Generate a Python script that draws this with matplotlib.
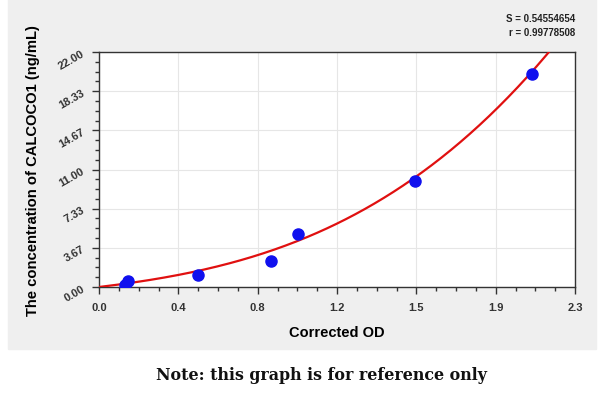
import numpy as np
import matplotlib.pyplot as plt
from matplotlib.patches import Rectangle
from matplotlib.ticker import AutoMinorLocator

# standard points (corrected OD, concentration ng/mL)
od = [0.126, 0.14, 0.478, 0.831, 0.961, 1.527, 2.092]
conc = [0.19, 0.56, 1.12, 2.43, 4.96, 9.92, 19.94]

# fitted curve coefficients: y = a*x + b*x^2 + c*x^3
fit_a, fit_b, fit_c = 2.316, 1.224, 1.088

x_ticks = np.linspace(0, 2.3, 7)
x_tick_labels = ["0.0", "0.4", "0.8", "1.2", "1.5", "1.9", "2.3"]
y_ticks = np.linspace(0, 22, 7)
y_tick_labels = ["0.00", "3.67", "7.33", "11.00", "14.67", "18.33", "22.00"]

plt.rcParams['font.family'] = ['Liberation Sans', 'DejaVu Sans']

fig = plt.figure(figsize=(6, 4.02), dpi=100)
fig.patches.append(Rectangle((8 / 600, 1 - 350 / 402), 588 / 600, 350 / 402,
                             transform=fig.transFigure, color='#efefef', zorder=-5))

ax = fig.add_axes([99 / 600, 1 - 288 / 402, 476 / 600, 235 / 402])
ax.set_xlim(0, 2.3)
ax.set_ylim(0, 22)

xs = np.linspace(0, 2.3, 300)
ys = fit_a * xs + fit_b * xs**2 + fit_c * xs**3
ax.plot(xs, ys, color='#e01010', lw=1.6, zorder=3)
ax.plot(od, conc, 'o', color='#1010ee', ms=8, zorder=4)

ax.set_xticks(x_ticks)
ax.set_xticklabels(x_tick_labels, fontsize=8, fontweight='bold', color='#333333')
ax.set_yticks(y_ticks)
ax.set_yticklabels(y_tick_labels, fontsize=8, fontweight='bold',
                   color='#333333', rotation=30, rotation_mode='anchor', ha='right', va='center')
ax.xaxis.set_minor_locator(AutoMinorLocator(4))
ax.yaxis.set_minor_locator(AutoMinorLocator(4))
ax.tick_params(which='major', direction='out', length=5, width=1, color='#333333')
ax.tick_params(which='minor', direction='out', length=3, width=1, color='#333333')
ax.tick_params(axis='x', pad=6)
ax.tick_params(axis='y', pad=6)
ax.grid(True, which='major', color='#e6e6e6', lw=0.8)
ax.set_axisbelow(True)
for s in ax.spines.values():
    s.set_color('#333333')
    s.set_linewidth(1)

ax.set_xlabel("Corrected OD", fontsize=10.5, fontweight='bold', labelpad=9)
ax.set_ylabel("The concentration of CALCOCO1 (ng/mL)", fontsize=10.6, fontweight='bold', labelpad=12)

fig.text(575 / 600, 1 - 19 / 402, "S = 0.54554654", ha='right', va='center', fontsize=7,
         fontweight='bold', color='#222222')
fig.text(575 / 600, 1 - 33 / 402, "r = 0.99778508", ha='right', va='center', fontsize=7,
         fontweight='bold', color='#222222')

fig.text(322 / 600, 1 - 376 / 402, "Note: this graph is for reference only", ha='center', va='center',
         fontsize=11.4, fontweight='bold', family=['DejaVu Serif'], color='#111111')

fig.savefig('out.png', dpi=100)
